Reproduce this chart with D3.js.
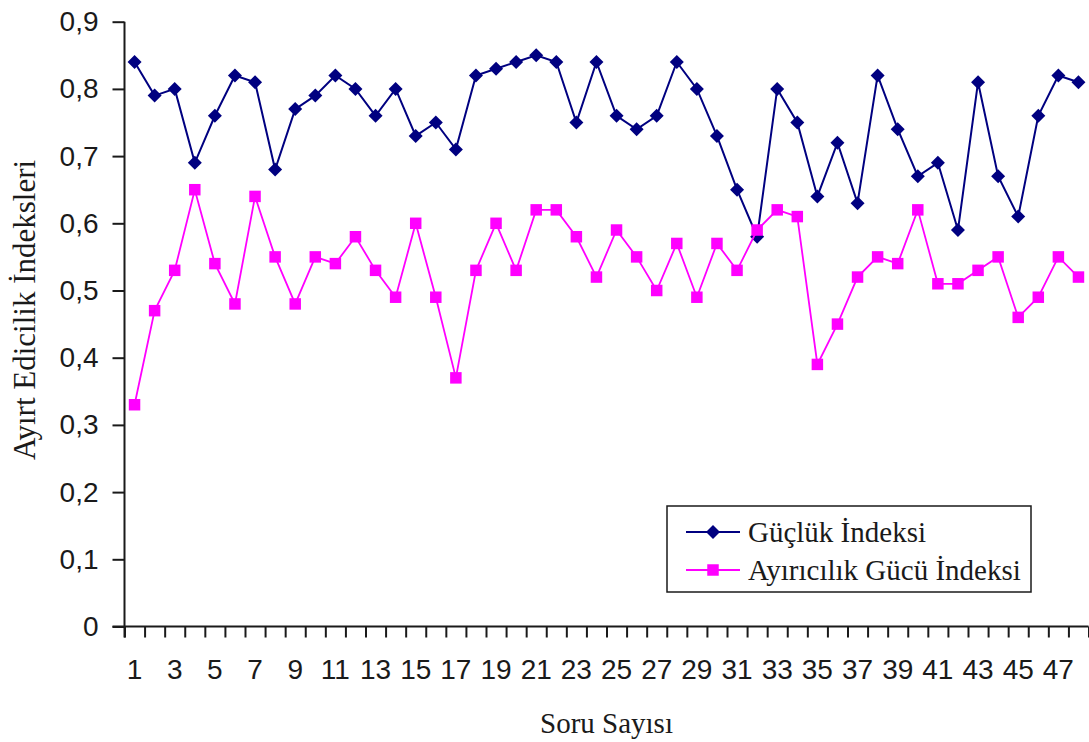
<!DOCTYPE html>
<html>
<head>
<meta charset="utf-8">
<script src="https://cdn.jsdelivr.net/npm/d3@7"></script>
<style>
  html, body { margin: 0; padding: 0; background: #fff; }
  svg { display: block; }
</style>
</head>
<body>
<svg id="chart" width="1089" height="742"></svg>
<script>
// Question numbers on the x axis
const questions = d3.range(1, 49);

// Difficulty index per question
const guclukIndeksi = [
  0.84, 0.79, 0.80, 0.69, 0.76, 0.82, 0.81, 0.68, 0.77, 0.79,
  0.82, 0.80, 0.76, 0.80, 0.73, 0.75, 0.71, 0.82, 0.83, 0.84,
  0.85, 0.84, 0.75, 0.84, 0.76, 0.74, 0.76, 0.84, 0.80, 0.73,
  0.65, 0.58, 0.80, 0.75, 0.64, 0.72, 0.63, 0.82, 0.74, 0.67,
  0.69, 0.59, 0.81, 0.67, 0.61, 0.76, 0.82, 0.81
];

// Discrimination index per question
const ayiricilikIndeksi = [
  0.33, 0.47, 0.53, 0.65, 0.54, 0.48, 0.64, 0.55, 0.48, 0.55,
  0.54, 0.58, 0.53, 0.49, 0.60, 0.49, 0.37, 0.53, 0.60, 0.53,
  0.62, 0.62, 0.58, 0.52, 0.59, 0.55, 0.50, 0.57, 0.49, 0.57,
  0.53, 0.59, 0.62, 0.61, 0.39, 0.45, 0.52, 0.55, 0.54, 0.62,
  0.51, 0.51, 0.53, 0.55, 0.46, 0.49, 0.55, 0.52
];

const yTicks = [0, 0.1, 0.2, 0.3, 0.4, 0.5, 0.6, 0.7, 0.8, 0.9];
const xLabels = questions.filter(q => q % 2 === 1);

const seriesNames = ["Güçlük İndeksi", "Ayırıcılık Gücü İndeksi"];
const seriesColors = ["#000080", "#FF00FF"];

const svg = d3.select("#chart");
const plotLeft = 124.5, plotRight = 1088.5, plotTop = 21.7, plotBottom = 626.5;

const x = d3.scaleBand().domain(questions).range([plotLeft, plotRight]).padding(0);
const xEdge = d3.scaleLinear().domain([0, questions.length]).range([plotLeft, plotRight]);
const y = d3.scaleLinear().domain([0, 0.9]).range([plotBottom, plotTop]);

const sansFont = "'Liberation Sans', Arial, sans-serif";
const serifFont = "'Liberation Serif', 'Times New Roman', serif";
const axisColor = "#1a1a1a";

// Y axis with comma decimal labels
const yAxis = svg.append("g")
  .attr("transform", `translate(${plotLeft},0)`)
  .call(d3.axisLeft(y)
    .tickValues(yTicks)
    .tickSize(12)
    .tickPadding(14)
    .tickFormat(d => d === 0 ? "0" : d3.format(".1f")(d).replace(".", ",")));
yAxis.select(".domain").attr("stroke", axisColor).attr("stroke-width", 2)
  .attr("d", `M0,${plotTop}V${plotBottom + 11}`);
yAxis.selectAll(".tick line").attr("stroke", axisColor).attr("stroke-width", 2);
yAxis.selectAll(".tick text")
  .attr("font-family", sansFont).attr("font-size", 28).attr("fill", axisColor);

// X axis: tick marks on category boundaries
const xTickAxis = svg.append("g")
  .attr("transform", `translate(0,${plotBottom})`)
  .call(d3.axisBottom(xEdge)
    .tickValues(d3.range(0, questions.length + 1))
    .tickSize(11)
    .tickFormat(""));
xTickAxis.select(".domain").attr("stroke", axisColor).attr("stroke-width", 2)
  .attr("d", `M${plotLeft - 12},0H${plotRight}`);
xTickAxis.selectAll(".tick line").attr("stroke", axisColor).attr("stroke-width", 2);

// X axis: labels centred on every other category
const xLabelAxis = svg.append("g")
  .attr("transform", `translate(0,${plotBottom})`)
  .call(d3.axisBottom(x)
    .tickValues(xLabels)
    .tickSize(0)
    .tickPadding(33));
xLabelAxis.select(".domain").remove();
xLabelAxis.selectAll(".tick text")
  .attr("font-family", sansFont).attr("font-size", 28).attr("fill", axisColor);

// Axis titles
svg.append("text")
  .attr("x", (plotLeft + plotRight) / 2).attr("y", 733)
  .attr("text-anchor", "middle")
  .attr("font-family", serifFont).attr("font-size", 29).attr("fill", axisColor)
  .text("Soru Sayısı");

svg.append("text")
  .attr("transform", `translate(35,310) rotate(-90)`)
  .attr("text-anchor", "middle")
  .attr("font-family", serifFont).attr("font-size", 31).attr("fill", axisColor)
  .text("Ayırt Edicilik İndeksleri");

// Marker shapes
const diamond = {
  draw(ctx, size) {
    const r = Math.sqrt(size / 2);
    ctx.moveTo(0, -r); ctx.lineTo(r, 0); ctx.lineTo(0, r); ctx.lineTo(-r, 0); ctx.closePath();
  }
};
const markerPaths = [
  d3.symbol().type(diamond).size(98)(),
  d3.symbol().type(d3.symbolSquare).size(132)()
];

const cx = q => x(q) + x.bandwidth() / 2;
const line = d3.line().x(d => cx(d.q)).y(d => y(d.v));

const seriesData = [guclukIndeksi, ayiricilikIndeksi].map(vals =>
  vals.map((v, i) => ({ q: questions[i], v })));
const lineWidths = [2, 1.8];

seriesData.forEach((data, si) => {
  const g = svg.append("g");
  g.append("path")
    .datum(data)
    .attr("fill", "none")
    .attr("stroke", seriesColors[si])
    .attr("stroke-width", lineWidths[si])
    .attr("d", line);
  g.selectAll("path.marker")
    .data(data)
    .join("path")
    .attr("class", "marker")
    .attr("transform", d => `translate(${cx(d.q)},${y(d.v)})`)
    .attr("d", markerPaths[si])
    .attr("fill", seriesColors[si]);
});

// Legend
const legend = svg.append("g");
legend.append("rect")
  .attr("x", 667).attr("y", 506).attr("width", 364).attr("height", 86)
  .attr("fill", "#fff").attr("stroke", axisColor).attr("stroke-width", 1.5);

seriesNames.forEach((name, i) => {
  const ly = 532 + i * 38;
  legend.append("line")
    .attr("x1", 686).attr("x2", 740).attr("y1", ly).attr("y2", ly)
    .attr("stroke", seriesColors[i]).attr("stroke-width", lineWidths[i]);
  legend.append("path")
    .attr("transform", `translate(713,${ly})`)
    .attr("d", markerPaths[i])
    .attr("fill", seriesColors[i]);
  legend.append("text")
    .attr("x", 748).attr("y", ly).attr("dy", "0.33em")
    .attr("font-family", serifFont).attr("font-size", 29).attr("fill", axisColor)
    .text(name);
});
</script>
</body>
</html>
